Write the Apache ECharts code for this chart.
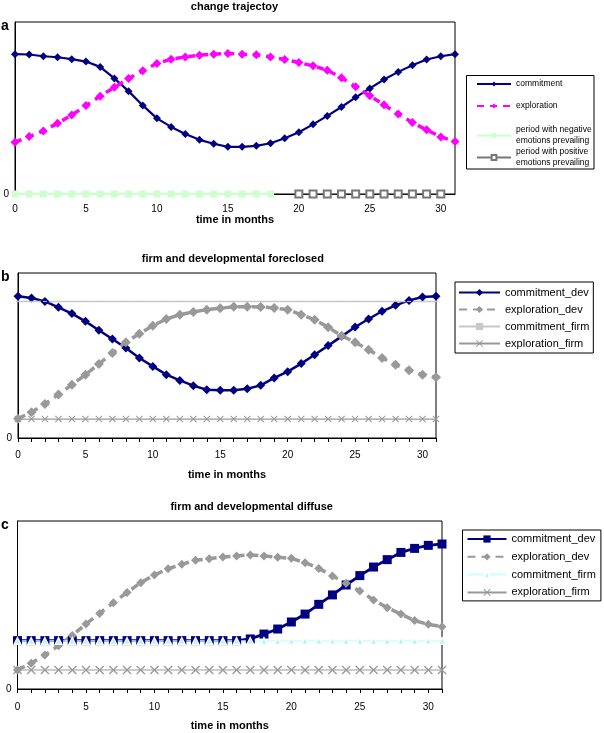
<!DOCTYPE html>
<html>
<head>
<meta charset="utf-8">
<script src="https://cdn.jsdelivr.net/npm/echarts@6/dist/echarts.min.js"></script>
<style>
  html, body { margin: 0; padding: 0; background: #fff; }
  #chart { width: 604px; height: 733px; }
</style>
</head>
<body>
<div id="chart"></div>
<script>
// months on the x axis
var months = [0,1,2,3,4,5,6,7,8,9,10,11,12,13,14,15,16,17,18,19,20,21,22,23,24,25,26,27,28,29,30,31];

// panel a: change trajectory
var commitmentA = [81.3,81.1,80.1,79.5,78.4,77.0,73.9,67.2,59.8,51.5,44.0,39.0,34.9,31.5,29.2,27.4,27.4,28.0,29.5,32.4,35.9,40.5,45.4,50.6,56.2,61.4,66.6,71.0,74.9,78.2,80.1,81.3];
var explorationA = [30.1,33.4,36.7,41.1,45.9,51.4,56.9,62.0,67.2,71.6,75.9,78.4,79.7,80.7,81.3,81.7,81.3,80.9,79.7,78.2,76.4,74.5,72.0,67.6,62.4,57.1,51.9,46.5,41.5,37.3,33.2,30.5];
var negativeA = [0,0,0,0,0,0,0,0,0,0,0,0,0,0,0,0,0,0,0,null,null,null,null,null,null,null,null,null,null,null,null,null];
var positiveA = [null,null,null,null,null,null,null,null,null,null,null,null,null,null,null,null,null,null,null,null,0,0,0,0,0,0,0,0,0,0,0,null];

// panel b: firm and developmental foreclosed
var commitDevB = [85.9,84.8,82.8,79.2,75.4,70.7,65.3,60.0,54.5,48.5,43.4,38.4,34.9,31.7,29.3,28.9,28.9,29.9,31.9,36.4,40.2,45.1,50.5,56.0,61.6,67.3,72.1,76.8,80.4,83.4,85.5,85.9];
var explDevB = [11.7,15.6,20.6,26.3,32.3,38.4,44.8,51.5,58.0,63.2,68.1,72.1,74.7,76.4,77.8,78.6,79.6,79.6,79.4,78.8,77.8,74.7,71.7,67.1,62.0,58.0,53.5,48.5,44.4,41.0,38.4,36.8];
var commitFirmB = [82.8,82.8,82.8,82.8,82.8,82.8,82.8,82.8,82.8,82.8,82.8,82.8,82.8,82.8,82.8,82.8,82.8,82.8,82.8,82.8,82.8,82.8,82.8,82.8,82.8,82.8,82.8,82.8,82.8,82.8,82.8,82.8];
var explFirmB = [11.5,11.5,11.5,11.5,11.5,11.5,11.5,11.5,11.5,11.5,11.5,11.5,11.5,11.5,11.5,11.5,11.5,11.5,11.5,11.5,11.5,11.5,11.5,11.5,11.5,11.5,11.5,11.5,11.5,11.5,11.5,11.5];

// panel c: firm and developmental diffuse
var commitDevC = [28.8,28.8,28.8,28.8,28.8,28.8,28.8,28.8,28.8,28.8,28.8,28.8,28.8,28.8,28.8,28.8,28.8,29.8,32.7,35.7,39.9,44.6,50.4,56.0,61.9,67.5,72.6,77.0,81.3,83.7,85.5,86.3];
var explDevC = [11.3,15.3,20.2,25.8,31.9,38.7,45.0,51.4,57.5,63.3,67.9,71.6,74.2,76.6,77.6,78.6,79.2,79.8,79.2,78.4,77.8,75.2,71.8,67.3,62.9,58.3,53.0,48.4,44.6,40.7,38.5,37.1];
var commitFirmC = [28.6,28.6,28.6,28.6,28.6,28.6,28.6,28.6,28.6,28.6,28.6,28.6,28.6,28.6,28.6,28.6,28.6,28.6,28.6,28.6,28.6,28.6,28.6,28.6,28.6,28.6,28.6,28.6,28.6,28.6,28.6,28.6];
var explFirmC = [11.3,11.3,11.3,11.3,11.3,11.3,11.3,11.3,11.3,11.3,11.3,11.3,11.3,11.3,11.3,11.3,11.3,11.3,11.3,11.3,11.3,11.3,11.3,11.3,11.3,11.3,11.3,11.3,11.3,11.3,11.3,11.3];

var font = "'Liberation Sans', Arial, sans-serif";
var xSymbol = 'path://M0,1L1,0L5,4L9,0L10,1L6,5L10,9L9,10L5,6L1,10L0,9L4,5Z';

function xAxis(idx, gap, margin, ticks) {
  return {
    type: 'category', gridIndex: idx, data: months, boundaryGap: false,
    axisLine: { lineStyle: { color: '#000', width: 1 } },
    axisTick: { show: ticks, interval: 0, length: 4, lineStyle: { color: '#000' } },
    axisLabel: { interval: 4, color: '#000', fontSize: 10, fontFamily: font, margin: margin },
    name: 'time in months', nameLocation: 'middle', nameGap: gap,
    nameTextStyle: { color: '#000', fontSize: 11, fontWeight: 'bold', fontFamily: font }
  };
}

function yAxis(idx) {
  return {
    type: 'value', gridIndex: idx, min: 0, max: 100, interval: 100,
    axisLine: { show: true, lineStyle: { color: '#000' } },
    axisTick: { show: false },
    splitLine: { show: false },
    axisLabel: {
      color: '#000', fontSize: 10, fontFamily: font, margin: 6,
      formatter: function (v) { return v === 0 ? '0' : ''; }
    }
  };
}

function line(name, idx, data, color, width, dash, symbol, size, extra) {
  var s = {
    name: name, type: 'line', xAxisIndex: idx, yAxisIndex: idx, data: data,
    symbol: symbol, symbolSize: size, showAllSymbol: true,
    lineStyle: { color: color, width: width, type: dash },
    itemStyle: { color: color }, animation: false
  };
  if (extra) {
    for (var k in extra) s[k] = extra[k];
  }
  return s;
}

var titleFont = 'bold 11px ' + font;

var option = {
  animation: false,
  grid: [
    { left: 15, right: 149, top: 22, height: 172, show: true, borderColor: '#000', borderWidth: 1 },
    { left: 18, right: 168, top: 273, height: 165, show: true, borderColor: '#000', borderWidth: 1 },
    { left: 17.5, right: 162, top: 521, height: 168, show: true, borderColor: '#000', borderWidth: 1 }
  ],
  xAxis: [xAxis(0, 19, 10, false), xAxis(1, 31, 12, true), xAxis(2, 31, 13, true)],
  yAxis: [yAxis(0), yAxis(1), yAxis(2)],
  legend: [
    {
      data: ['commitment', 'exploration'], orient: 'vertical', left: 476, top: 79.5,
      padding: 0, itemGap: 13, itemWidth: 34, itemHeight: 6, itemTextGap: 1,
      textStyle: { color: '#000', fontFamily: font, fontSize: 8.5 }
    },
    {
      data: [
        { name: 'period with negative\nemotions prevailing' },
        { name: 'period with positive\nemotions prevailing', itemStyle: { borderWidth: 1 } }
      ],
      orient: 'vertical', left: 476, top: 124.5,
      padding: 0, itemGap: 0, itemWidth: 34, itemHeight: 6, itemTextGap: 1,
      textStyle: { color: '#000', fontFamily: font, fontSize: 8.5, lineHeight: 11 }
    },
    {
      data: ['commitment_dev', 'exploration_dev', 'commitment_firm', 'exploration_firm'],
      orient: 'vertical', left: 455, top: 282,
      padding: [5, 4, 4, 3], itemGap: 6, itemWidth: 41, itemHeight: 9, itemTextGap: 1,
      borderColor: '#000', borderWidth: 1,
      textStyle: { color: '#000', fontFamily: font, fontSize: 11 }
    },
    {
      data: ['commitment_dev ', 'exploration_dev ', 'commitment_firm ', 'exploration_firm '],
      orient: 'vertical', left: 462.5, top: 530,
      padding: [3.5, 2, 3, 4], itemGap: 6.8, itemWidth: 39, itemHeight: 9, itemTextGap: 1,
      borderColor: '#000', borderWidth: 1,
      textStyle: { color: '#000', fontFamily: font, fontSize: 11 }
    }
  ],
  graphic: [
    { type: 'text', style: { x: 234.5, y: 7, text: 'change trajectoy', textAlign: 'center', textVerticalAlign: 'middle', font: titleFont, fill: '#000' } },
    { type: 'text', style: { x: 232.8, y: 259.3, text: 'firm and developmental foreclosed', textAlign: 'center', textVerticalAlign: 'middle', font: titleFont, fill: '#000' } },
    { type: 'text', style: { x: 251.7, y: 507.3, text: 'firm and developmental diffuse', textAlign: 'center', textVerticalAlign: 'middle', font: titleFont, fill: '#000' } },
    { type: 'text', style: { x: 1, y: 26, text: 'a', textVerticalAlign: 'middle', font: 'bold 14px ' + font, fill: '#000' } },
    { type: 'text', style: { x: 1, y: 277, text: 'b', textVerticalAlign: 'middle', font: 'bold 14px ' + font, fill: '#000' } },
    { type: 'text', style: { x: 1, y: 525, text: 'c', textVerticalAlign: 'middle', font: 'bold 14px ' + font, fill: '#000' } },
    { type: 'rect', shape: { x: 466.5, y: 75.5, width: 127.5, height: 93.5 }, style: { fill: 'none', stroke: '#000', lineWidth: 1 } }
  ],
  series: [
    line('commitment', 0, commitmentA, '#000080', 2.2, 'solid', 'diamond', 8),
    line('exploration', 0, explorationA, '#ff00ff', 3.5, [7, 6], 'diamond', 9),
    line('period with negative\nemotions prevailing', 0, negativeA, '#ccffcc', 2.5, 'solid', 'rect', 7),
    line('period with positive\nemotions prevailing', 0, positiveA, '#777777', 1, 'solid', 'emptyRect', 7),

    line('commitment_dev', 1, commitDevB, '#000080', 2.5, 'solid', 'diamond', 9),
    line('exploration_dev', 1, explDevB, '#999999', 3.5, [8, 6], 'diamond', 10),
    line('commitment_firm', 1, commitFirmB, '#c8c8c8', 1.5, 'solid', 'rect', [4, 1]),
    line('exploration_firm', 1, explFirmB, '#999999', 1.2, 'solid', xSymbol, 7),

    line('commitment_dev ', 2, commitDevC, '#000080', 2.8, 'solid', 'rect', 9),
    line('exploration_dev ', 2, explDevC, '#999999', 3.5, [8, 6], 'diamond', 9),
    line('commitment_firm ', 2, commitFirmC, '#ccffff', 1.5, 'solid', 'triangle', 7,
      { itemStyle: { color: '#b8f4f4', borderColor: '#ffffff', borderWidth: 1.2 } }),
    line('exploration_firm ', 2, explFirmC, '#999999', 1.2, 'solid', xSymbol, 9)
  ]
};

var chart = echarts.init(document.getElementById('chart'));
chart.setOption(option);
</script>
</body>
</html>
